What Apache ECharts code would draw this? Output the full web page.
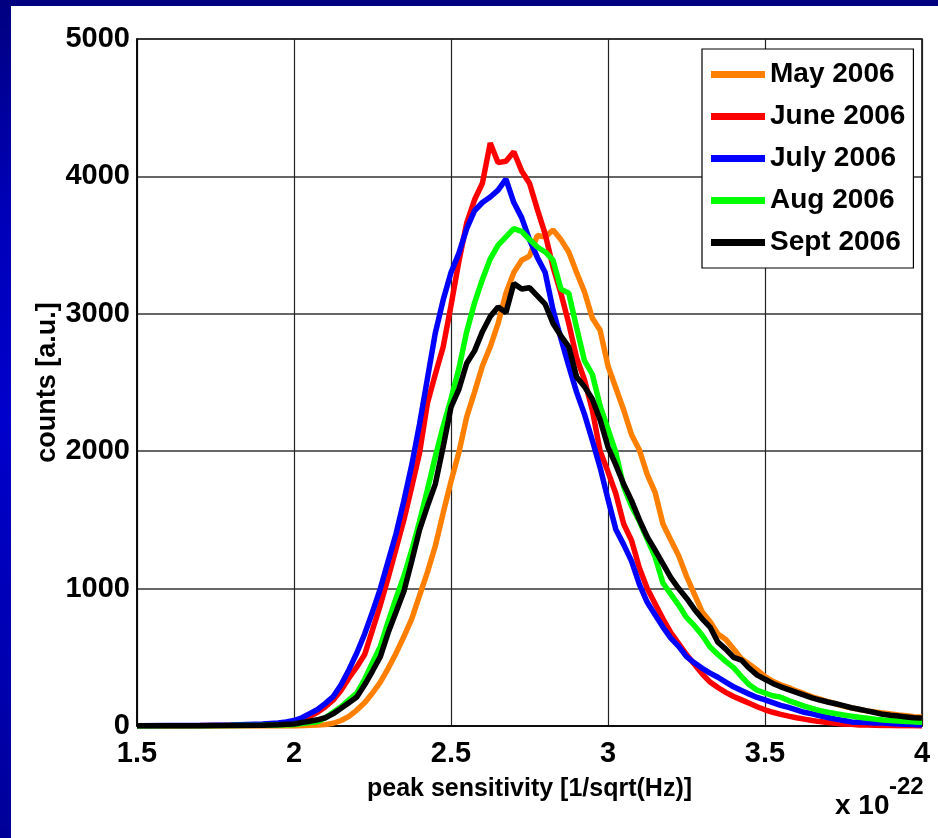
<!DOCTYPE html>
<html>
<head>
<meta charset="utf-8">
<script src="https://cdn.jsdelivr.net/npm/echarts@6/dist/echarts.min.js"></script>
<style>
  html, body { margin: 0; padding: 0; width: 938px; height: 838px; overflow: hidden;
    background: linear-gradient(to bottom, #000080 0%, #0000B8 25%, #0000CC 50%, #0000B0 80%, #000098 100%); }
  #chart { position: absolute; left: 11px; top: 6px; width: 927px; height: 832px; background: #fff; }
</style>
</head>
<body>
<div id="chart"></div>
<script>
// x sample positions (units of 1e-22 1/sqrt(Hz))
const xs = [1.5, 1.6, 1.7, 1.8, 1.9, 1.95, 1.975,
  2.0, 2.025, 2.05, 2.075, 2.1, 2.125, 2.15, 2.175, 2.2, 2.225, 2.25, 2.275, 2.3, 2.325, 2.35, 2.375,
  2.4, 2.425, 2.45, 2.475, 2.5, 2.525, 2.55, 2.575, 2.6, 2.625, 2.65, 2.675, 2.7, 2.725, 2.75, 2.775,
  2.8, 2.825, 2.85, 2.875, 2.9, 2.925, 2.95, 2.975, 3.0, 3.025, 3.05, 3.075, 3.1, 3.125, 3.15, 3.175,
  3.2, 3.225, 3.25, 3.275, 3.3, 3.325, 3.35, 3.375, 3.4, 3.425, 3.45, 3.475, 3.5, 3.525, 3.55, 3.575,
  3.6, 3.625, 3.65, 3.675, 3.7, 3.725, 3.75, 3.775, 3.8, 3.825, 3.85, 3.875, 3.9, 3.925, 3.95, 3.975, 4.0];

const seriesNames = ['May 2006', 'June 2006', 'July 2006', 'Aug 2006', 'Sept 2006'];
const seriesColors = ['#FF8000', '#FF0000', '#0000FF', '#00FF00', '#000000'];

const may2006 = [0, 0, 1, 0, 1, 0, 0,
  0, 2, 5, 8, 10, 20, 40, 70, 116, 170, 240, 320, 420, 530, 650, 780,
  950, 1120, 1310, 1550, 1780, 1990, 2250, 2430, 2620, 2760, 2930, 3150, 3300, 3390, 3420, 3570,
  3560, 3610, 3540, 3450, 3300, 3160, 2970, 2880, 2620, 2460, 2300, 2120, 2009, 1830, 1700, 1470,
  1354, 1240, 1090, 960, 830, 760, 670, 630, 560, 490, 450, 408, 360, 325, 300, 280,
  255, 235, 212, 195, 178, 162, 145, 132, 120, 110, 102, 95, 88, 80, 74, 68, 66];

const june2006 = [1, 2, 3, 6, 10, 16, 22,
  30, 45, 70, 100, 140, 190, 260, 350, 430, 520, 700, 880, 1080, 1290, 1500, 1740,
  1990, 2350, 2560, 2758, 3060, 3380, 3660, 3830, 3950, 4243, 4100, 4110, 4180, 4040, 3950, 3760,
  3580, 3340, 3150, 2930, 2680, 2520, 2300, 2000, 1850, 1690, 1470, 1350, 1150, 1000, 890, 780,
  680, 600, 520, 450, 380, 320, 280, 245, 215, 190, 165, 140, 118, 100, 85, 72,
  60, 50, 40, 32, 25, 20, 15, 12, 8, 7, 5, 4, 3, 2, 2, 1, 0];

const july2006 = [2, 3, 4, 8, 14, 22, 30,
  40, 60, 90, 120, 165, 215, 300, 410, 531, 670, 830, 1000, 1200, 1400, 1640, 1900,
  2200, 2530, 2860, 3100, 3300, 3440, 3620, 3750, 3810, 3850, 3900, 3980, 3810, 3700, 3540, 3410,
  3300, 3028, 2820, 2620, 2430, 2270, 2080, 1880, 1650, 1430, 1320, 1200, 1030, 900, 810, 720,
  640, 580, 505, 460, 420, 385, 355, 320, 285, 258, 232, 208, 190, 170, 150, 135,
  118, 100, 88, 75, 62, 50, 40, 30, 28, 25, 22, 22, 18, 15, 12, 10, 10];

const aug2006 = [0, 1, 2, 3, 5, 7, 9,
  10, 18, 25, 30, 60, 100, 140, 190, 240, 340, 460, 580, 760, 930, 1090, 1280,
  1490, 1720, 1960, 2180, 2380, 2600, 2870, 3080, 3250, 3400, 3500, 3560, 3620, 3600, 3540, 3486,
  3450, 3390, 3180, 3150, 2900, 2660, 2560, 2330, 2160, 1990, 1740, 1600, 1490, 1360, 1230, 1041,
  960, 880, 790, 730, 660, 575, 520, 470, 425, 360, 300, 260, 240, 220, 210, 185,
  165, 145, 128, 112, 100, 90, 80, 72, 64, 57, 50, 44, 40, 36, 33, 30, 28];

const sept2006 = [1, 2, 2, 4, 6, 9, 12,
  15, 25, 35, 45, 60, 90, 130, 170, 211, 300, 400, 505, 680, 830, 980, 1200,
  1430, 1600, 1760, 2031, 2320, 2450, 2640, 2730, 2870, 2980, 3050, 3010, 3220, 3180, 3190, 3130,
  3070, 2930, 2840, 2760, 2540, 2470, 2380, 2227, 2030, 1900, 1760, 1640, 1500, 1376, 1280, 1180,
  1080, 1000, 930, 850, 780, 720, 610, 560, 500, 480, 420, 370, 340, 310, 285, 265,
  245, 225, 205, 189, 175, 162, 148, 133, 122, 110, 98, 85, 78, 72, 66, 60, 58];

const xTicks = [1.5, 2, 2.5, 3, 3.5, 4];
const yTicks = [0, 1000, 2000, 3000, 4000, 5000];
const xLabel = 'peak sensitivity [1/sqrt(Hz)]';
const yLabel = 'counts [a.u.]';
const xExponent = '-22';

const allSeries = [may2006, june2006, july2006, aug2006, sept2006];

const font = '"Liberation Sans", Arial, sans-serif';

const chart = echarts.init(document.getElementById('chart'), null, { renderer: 'canvas' });
chart.setOption({
  animation: false,
  backgroundColor: '#ffffff',
  grid: {
    left: 126, top: 33, width: 785, height: 687,
    show: true, borderColor: '#000', borderWidth: 1.5, backgroundColor: '#fff'
  },
  xAxis: {
    type: 'value', min: xTicks[0], max: xTicks[xTicks.length - 1], interval: 0.5,
    name: xLabel, nameLocation: 'middle', nameGap: 51, nameMoveOverlap: false,
    nameTextStyle: { fontFamily: font, fontWeight: 'bold', fontSize: 25, color: '#000' },
    axisLine: { show: true, lineStyle: { color: '#000', width: 1.5 } },
    axisTick: { show: false },
    axisLabel: { margin: 13, fontFamily: font, fontWeight: 'bold', fontSize: 29, color: '#000',
      formatter: v => String(v) },
    splitLine: { show: true, lineStyle: { color: '#222', width: 1.2 } }
  },
  yAxis: {
    type: 'value', min: yTicks[0], max: yTicks[yTicks.length - 1], interval: 1000,
    name: yLabel, nameLocation: 'middle', nameGap: 76, nameMoveOverlap: false,
    nameTextStyle: { fontFamily: font, fontWeight: 'bold', fontSize: 27, color: '#000' },
    axisLine: { show: true, lineStyle: { color: '#000', width: 1.5 } },
    axisTick: { show: false },
    axisLabel: { margin: 7, fontFamily: font, fontWeight: 'bold', fontSize: 29, color: '#000',
      formatter: v => String(v) },
    splitLine: { show: true, lineStyle: { color: '#333', width: 1.5 } }
  },
  legend: {
    orient: 'vertical', left: 691, top: 43,
    backgroundColor: '#fff', borderColor: '#000', borderWidth: 1.2, borderRadius: 0,
    padding: [10, 8, 10, 9],
    itemWidth: 54, itemHeight: 7, itemGap: 11, icon: 'rect',
    textStyle: { fontFamily: font, fontWeight: 'bold', fontSize: 28, color: '#000', lineHeight: 31 },
    data: seriesNames
  },
  graphic: [
    { type: 'text', left: 824, top: 786,
      style: { text: 'x 10', fontFamily: font, fontWeight: 'bold', fontSize: 28, fill: '#000' } },
    { type: 'text', left: 878, top: 769,
      style: { text: xExponent, fontFamily: font, fontWeight: 'bold', fontSize: 24, fill: '#000' } }
  ],
  series: allSeries.map((vals, i) => ({
    name: seriesNames[i],
    type: 'line',
    showSymbol: false,
    symbol: 'none',
    color: seriesColors[i],
    lineStyle: { color: seriesColors[i], width: 5.5 },
    z: 2 + i,
    data: xs.map((x, j) => [x, vals[j]])
  }))
});
</script>
</body>
</html>
